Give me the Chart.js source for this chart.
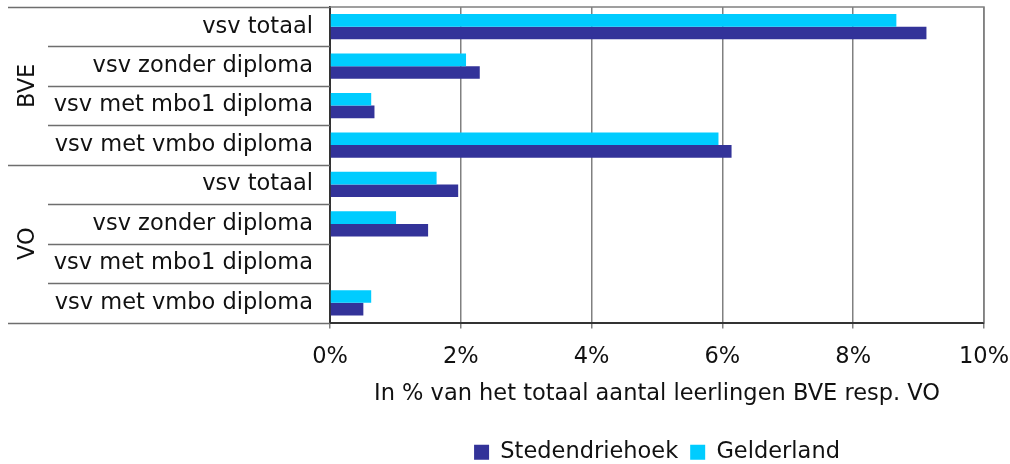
<!DOCTYPE html>
<html>
<head>
<meta charset="utf-8">
<script src="https://cdn.jsdelivr.net/npm/chart.js@4"></script>
<style>
  html, body { margin: 0; padding: 0; background: #fff; }
  #wrap { width: 1010px; height: 464px; }
</style>
</head>
<body>
<div id="wrap"><canvas id="myChart" width="1010" height="464"></canvas></div>
<script>
// chart values
var categories = ['vsv totaal', 'vsv zonder diploma', 'vsv met mbo1 diploma', 'vsv met vmbo diploma',
                  'vsv totaal', 'vsv zonder diploma', 'vsv met mbo1 diploma', 'vsv met vmbo diploma'];
var groups = ['BVE', 'VO'];
var groupSize = 4;
var stedendriehoek = [9.12, 2.29, 0.68, 6.14, 1.96, 1.50, 0, 0.51];
var gelderland = [8.66, 2.08, 0.63, 5.94, 1.63, 1.01, 0, 0.63];
var xTicks = [0, 2, 4, 6, 8, 10];

var FONT = "'DejaVu Sans', Verdana, sans-serif";
var FSIZE = 22.5;
var TEXT = '#111111';

// draws the separator lines and group labels at the left, plus the plot frame
var groupLabels = {
  id: 'groupLabels',
  afterLayout: function (chart) {
    // legend sits under the plot area, not under the whole canvas
    var lg = chart.legend;
    var dx = (chart.chartArea.left + chart.chartArea.right) / 2 - (lg.left + lg.right) / 2;
    lg.left += dx;
    lg.right += dx;
  },
  afterDraw: function (chart) {
    var ctx = chart.ctx;
    var y = chart.scales.y;
    var area = chart.chartArea;
    var band = y.getPixelForValue(1) - y.getPixelForValue(0);
    ctx.save();
    ctx.strokeStyle = '#6e6e6e';
    ctx.lineWidth = 1.5;
    for (var i = 0; i <= categories.length; i++) {
      var py = Math.round(y.getPixelForValue(i) - band / 2) + 0.5;
      var x0 = (i % groupSize === 0) ? 8 : 48;
      ctx.beginPath();
      ctx.moveTo(x0, py);
      ctx.lineTo(area.left, py);
      ctx.stroke();
    }
    // top and right edge of the plot
    ctx.strokeStyle = '#808080';
    ctx.lineWidth = 1.5;
    ctx.beginPath();
    ctx.moveTo(area.left, area.top);
    ctx.lineTo(area.right, area.top);
    ctx.lineTo(area.right, area.bottom);
    ctx.stroke();

    ctx.fillStyle = TEXT;
    ctx.font = FSIZE + 'px ' + FONT;
    ctx.textAlign = 'center';
    ctx.textBaseline = 'middle';
    groups.forEach(function (g, k) {
      var first = y.getPixelForValue(k * groupSize) - band / 2;
      var last = y.getPixelForValue(k * groupSize + groupSize - 1) + band / 2;
      ctx.save();
      ctx.translate(28, (first + last) / 2);
      ctx.rotate(-Math.PI / 2);
      ctx.fillText(g, 0, 0);
      ctx.restore();
    });
    ctx.restore();
  }
};

var ctx = document.getElementById('myChart').getContext('2d');
var myChart = new Chart(ctx, {
  type: 'bar',
  data: {
    labels: categories,
    datasets: [{
      label: 'Gelderland',
      data: gelderland,
      backgroundColor: '#00ccff',
      borderWidth: 0
    }, {
      label: 'Stedendriehoek',
      data: stedendriehoek,
      backgroundColor: '#333399',
      borderWidth: 0
    }]
  },
  options: {
    indexAxis: 'y',
    responsive: false,
    animation: false,
    categoryPercentage: 0.64,
    barPercentage: 1.0,
    layout: { padding: { top: 7, right: 26, bottom: -9.5, left: 0 } },
    plugins: {
      tooltip: { enabled: false },
      legend: {
        position: 'bottom',
        reverse: true,
        labels: {
          font: { family: FONT, size: FSIZE },
          color: TEXT,
          boxWidth: 15,
          boxHeight: 15,
          padding: 12
        }
      }
    },
    scales: {
      x: {
        min: 0,
        max: 10,
        afterBuildTicks: function (scale) {
          scale.ticks = xTicks.map(function (v) { return { value: v }; });
        },
        afterFit: function (scale) {
          scale.height = 106.5;
          scale.paddingLeft = 0;
          scale.paddingRight = 0;
        },
        ticks: {
          font: { family: FONT, size: FSIZE },
          color: TEXT,
          padding: 15,
          maxRotation: 0,
          callback: function (v) { return v + '%'; }
        },
        grid: { color: '#808080', lineWidth: 1.5, tickLength: 6 },
        border: { color: '#333333', width: 2 },
        title: {
          display: true,
          text: 'In % van het totaal aantal leerlingen BVE resp. VO',
          font: { family: FONT, size: FSIZE },
          color: TEXT,
          padding: { top: 0, bottom: 21 }
        }
      },
      y: {
        afterFit: function (scale) {
          scale.width = 330;
          scale.paddingTop = 0;
          scale.paddingBottom = 0;
        },
        ticks: {
          font: { family: FONT, size: FSIZE },
          color: TEXT,
          padding: 17
        },
        grid: { display: false, drawTicks: false },
        border: { color: '#333333', width: 2 }
      }
    }
  },
  plugins: [groupLabels]
});
</script>
</body>
</html>
